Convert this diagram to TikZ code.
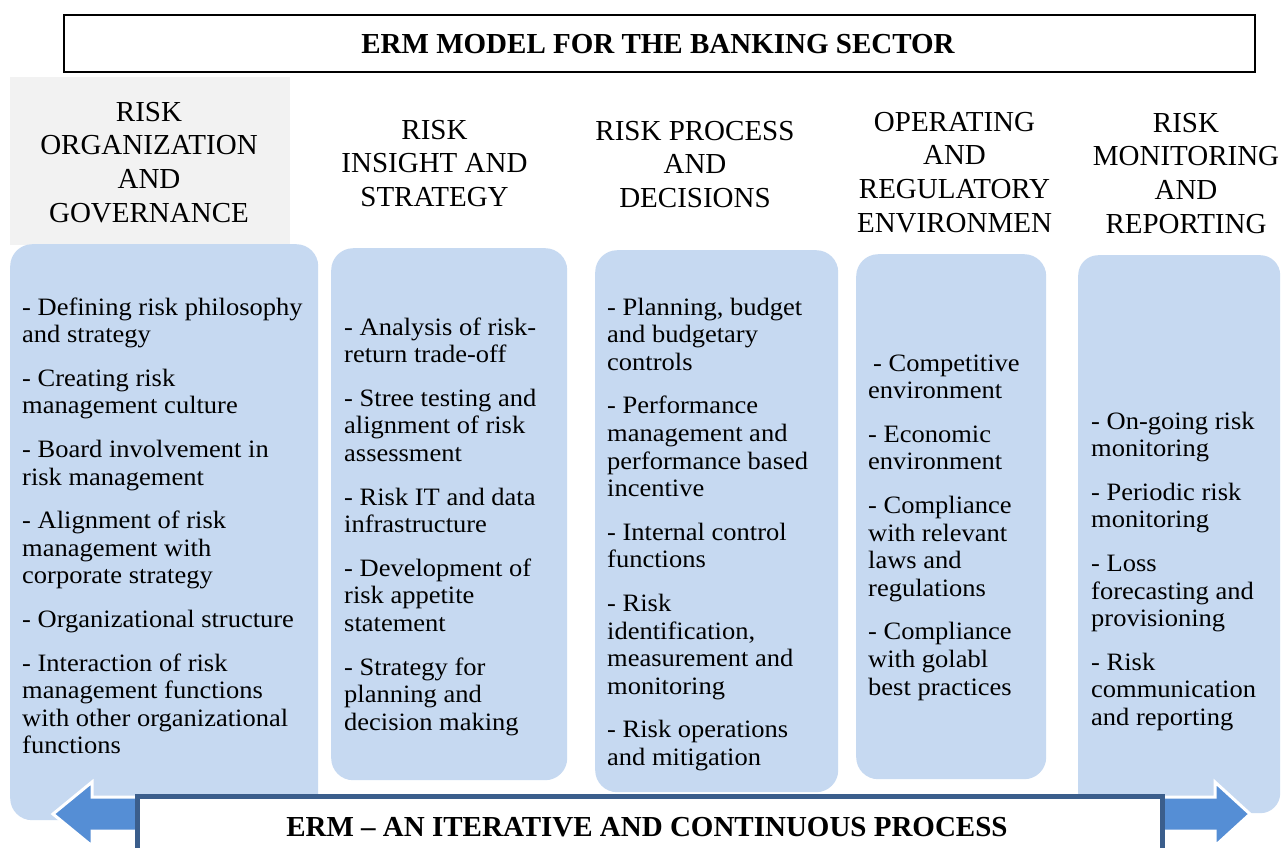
\documentclass[tikz,border=0pt]{standalone}
\usepackage{fontspec}
\setmainfont{Liberation Serif}
\newfontfamily\bodyfont[FakeStretch=1.06]{Liberation Serif}
\definecolor{boxblue}{HTML}{C6D9F1}
\definecolor{arrowblue}{HTML}{558ED5}
\definecolor{frameblue}{HTML}{3B5E8C}
\definecolor{headgray}{HTML}{F2F2F2}
\newcommand{\bodytext}[1]{\parbox[t]{330pt}{\bodyfont\fontsize{25}{27.6}\selectfont\raggedright\setlength{\parskip}{16pt}\setlength{\parindent}{0pt}#1}}
\newcommand{\headtext}[1]{\parbox[t]{330pt}{\fontsize{29}{33.8}\selectfont\centering #1}}
\begin{document}
\begin{tikzpicture}[x=1pt,y=-1pt,
  colbox/.style={fill=boxblue,draw=none,rounded corners=22pt,anchor=north west,inner sep=0pt},
  bodynode/.style={anchor=base west,inner sep=0pt},
  headnode/.style={anchor=base,inner sep=0pt}]
\useasboundingbox (0,0) rectangle (1281,847);
\clip (0,0) rectangle (1281,847);
\fill[white] (0,0) rectangle (1281,847);
% title
\node[draw=black,line width=1.8pt,fill=white,minimum width=1191pt,minimum height=57pt,anchor=north west,inner sep=0pt] (title) at (63,14) {};
\node[headnode] (titletext) at (658,53) {\fontsize{29}{34}\selectfont\bfseries ERM MODEL FOR THE BANKING SECTOR};
% gray header
\node[fill=headgray,draw=none,minimum width=280pt,minimum height=168pt,anchor=north west,inner sep=0pt] (gray) at (10,77) {};
% column boxes
\node[colbox,minimum width=308pt,minimum height=576pt] (b1) at (10,244) {};
\node[colbox,minimum width=236pt,minimum height=532pt] (b2) at (331,248) {};
\node[colbox,minimum width=243pt,minimum height=542pt] (b3) at (595,250) {};
\node[colbox,minimum width=190pt,minimum height=525pt] (b4) at (856,254) {};
\node[colbox,minimum width=202pt,minimum height=558pt,rounded corners=20pt] (b5) at (1078,255) {};
% headings
\node[headnode] (h1) at (149,121) {\headtext{RISK\\ORGANIZATION\\AND\\GOVERNANCE}};
\node[headnode] (h2) at (434.5,139) {\headtext{RISK\\INSIGHT AND\\STRATEGY}};
\node[headnode] (h3) at (695,140) {\headtext{RISK PROCESS\\AND\\DECISIONS}};
\node[headnode] (h4) at (954.5,131) {\headtext{OPERATING\\AND\\REGULATORY\\ENVIRONMEN}};
\node[headnode] (h5) at (1186,132) {\headtext{RISK\\MONITORING\\AND\\REPORTING}};
% body texts
\node[bodynode] (t1) at (22,315) {\bodytext{- Defining risk philosophy\\and strategy\par
- Creating risk\\management culture\par
- Board involvement in\\risk management\par
- Alignment of risk\\management with\\corporate strategy\par
- Organizational structure\par
- Interaction of risk\\management functions\\with other organizational\\functions}};
\node[bodynode] (t2) at (344,335) {\bodytext{- Analysis of risk-\\return trade-off\par
- Stree testing and\\alignment of risk\\assessment\par
- Risk IT and data\\infrastructure\par
- Development of\\risk appetite\\statement\par
- Strategy for\\planning and\\decision making}};
\node[bodynode] (t3) at (607,315) {\bodytext{- Planning, budget\\and budgetary\\controls\par
- Performance\\management and\\performance based\\incentive\par
- Internal control\\functions\par
- Risk\\identification,\\measurement and\\monitoring\par
- Risk operations\\and mitigation}};
\node[bodynode] (t4) at (868,371) {\bodytext{\hspace*{5pt}- Competitive\\environment\par
- Economic\\environment\par
- Compliance\\with relevant\\laws and\\regulations\par
- Compliance\\with golabl\\best practices}};
\node[bodynode] (t5) at (1091,429) {\bodytext{- On-going risk\\monitoring\par
- Periodic risk\\monitoring\par
- Loss\\forecasting and\\provisioning\par
- Risk\\communication\\and reporting}};
% double arrow
\coordinate (la) at (53,814);
\coordinate (ra) at (1250,814);
\fill[arrowblue] (la) -- (92,782) -- (92,797) -- (1215,797) -- (1215,782) -- (ra) -- (1215,846) -- (1215,831) -- (92,831) -- (92,846) -- cycle;
\draw[white,line width=3pt,line join=miter] (la) -- (92,782) -- (92,797) -- (1215,797) -- (1215,782) -- (ra) -- (1215,846) -- (1215,831) -- (92,831) -- (92,846) -- cycle;
% bottom box
\node[draw=frameblue,line width=4.5pt,fill=white,minimum width=1025pt,minimum height=80pt,anchor=north west,inner sep=0pt] (bottom) at (135,794) {};
\node[headnode] (bottomtext) at (647,836) {\fontsize{29}{34}\selectfont\bfseries ERM -- AN ITERATIVE AND CONTINUOUS PROCESS};
\end{tikzpicture}
\end{document}
